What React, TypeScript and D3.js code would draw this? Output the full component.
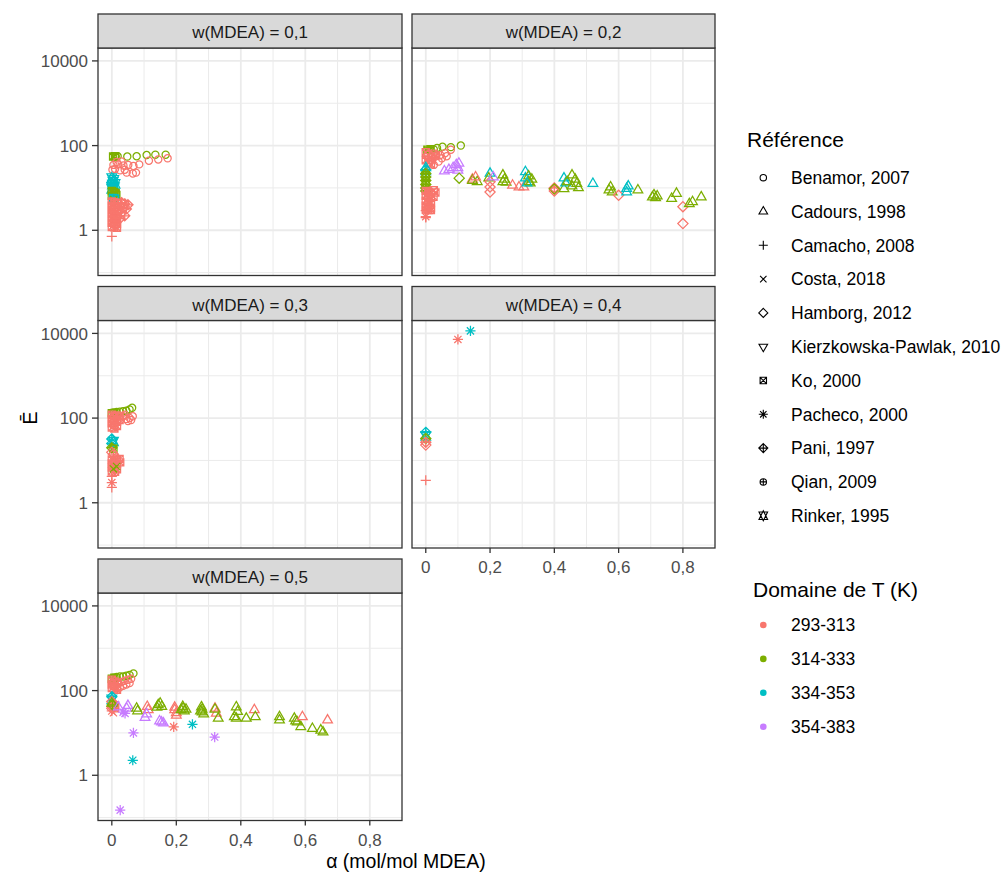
// Facetted scatter: Ē vs CO2 loading α, one facet per MDEA mass fraction.
// Shape = data source, colour = temperature range. Log y, shared scales (ggplot-ish look).

import * as d3 from "d3";

const REFERENCES = [
  "Benamor, 2007",
  "Cadours, 1998",
  "Camacho, 2008",
  "Costa, 2018",
  "Hamborg, 2012",
  "Kierzkowska-Pawlak, 2010",
  "Ko, 2000",
  "Pacheco, 2000",
  "Pani, 1997",
  "Qian, 2009",
  "Rinker, 1995",
];
const T_RANGES = ["293-313", "314-333", "334-353", "354-383"];
const T_COLORS = ["#F8766D", "#7CAE00", "#00BFC4", "#C77CFF"];
const FACETS = [
  "w(MDEA) = 0,1",
  "w(MDEA) = 0,2",
  "w(MDEA) = 0,3",
  "w(MDEA) = 0,4",
  "w(MDEA) = 0,5",
];
const X_BREAKS = [0, 0.2, 0.4, 0.6, 0.8];
const X_LABELS = ["0", "0,2", "0,4", "0,6", "0,8"];
const X_MINOR = [0.1, 0.3, 0.5, 0.7];
const Y_BREAKS = [1, 100, 10000];
const Y_LABELS = ["1", "100", "10000"];
const Y_MINOR = [0.1, 10, 1000];

// rows: [reference index, T range index, α, Ē]
type Obs = [number, number, number, number];

const W01: Obs[] = [
  [0, 1, 0.012, 55], [0, 1, 0.018, 56], [0, 1, 0.048, 55], [0, 1, 0.077, 56],
  [0, 1, 0.108, 60], [0, 1, 0.135, 61], [0, 1, 0.167, 61],
  [6, 1, 0.004, 55], [6, 1, 0.01, 56],
  [0, 0, 0.115, 44], [0, 0, 0.144, 47], [0, 0, 0.173, 50],
  [0, 0, 0.005, 35], [0, 0, 0.02, 36], [0, 0, 0.036, 34], [0, 0, 0.051, 35],
  [0, 0, 0.067, 33], [0, 0, 0.085, 36], [0, 0, 0.002, 27], [0, 0, 0.01, 28],
  [0, 0, 0.026, 26], [0, 0, 0.04, 27], [0, 0, 0.046, 23], [0, 0, 0.065, 22],
  [0, 0, 0.075, 23], [0, 0, 0.015, 41], [0, 0, 0.03, 42],
  [10, 2, 0.0, 17], [10, 2, 0.004, 14], [10, 2, 0.002, 12], [10, 2, 0.008, 10.5],
  [10, 2, 0.0, 9.5], [10, 2, 0.006, 15.5], [10, 2, 0.01, 12.5], [8, 2, 0.0, 13],
  [6, 1, 0.0, 8.5], [6, 1, 0.006, 8], [6, 1, 0.012, 7.6], [6, 1, 0.0, 6.5],
  [6, 1, 0.008, 6.2], [6, 1, 0.014, 6.8], [6, 2, 0.004, 5.8], [6, 2, 0.01, 5.6],
  [3, 1, 0.006, 5.3],
  [6, 0, 0.0, 4.8], [6, 0, 0.008, 4.6], [6, 0, 0.016, 4.4], [6, 0, 0.0, 3.8],
  [6, 0, 0.008, 3.6], [6, 0, 0.016, 3.5], [6, 0, 0.0, 3.0], [6, 0, 0.008, 2.9],
  [6, 0, 0.016, 2.8], [6, 0, 0.0, 2.4], [6, 0, 0.008, 2.3], [6, 0, 0.016, 2.2],
  [6, 0, 0.0, 1.9], [6, 0, 0.008, 1.85], [6, 0, 0.016, 1.8], [6, 0, 0.0, 1.5],
  [6, 0, 0.008, 1.45], [6, 0, 0.016, 1.4], [6, 0, 0.0, 1.2], [6, 0, 0.008, 1.18],
  [6, 0, 0.016, 1.15],
  [8, 0, 0.03, 4.5], [8, 0, 0.04, 4.2], [8, 0, 0.05, 4.0], [8, 0, 0.035, 3.4],
  [8, 0, 0.045, 3.2], [8, 0, 0.03, 2.6], [8, 0, 0.04, 2.2], [8, 0, 0.025, 1.9],
  [2, 0, 0.0, 0.72],
];

const W02: Obs[] = [
  [0, 1, 0.01, 78], [0, 1, 0.025, 81], [0, 1, 0.035, 88], [0, 1, 0.052, 94],
  [0, 1, 0.078, 92], [0, 1, 0.109, 100], [6, 1, 0.005, 80], [6, 1, 0.015, 82],
  [0, 0, 0.078, 80], [0, 0, 0.06, 66], [0, 0, 0.045, 60], [0, 0, 0.03, 55],
  [0, 0, 0.05, 50], [0, 0, 0.065, 56], [0, 0, 0.02, 45], [0, 0, 0.04, 42],
  [0, 0, 0.01, 38], [0, 0, 0.025, 35],
  [6, 0, 0.0, 70], [6, 0, 0.008, 60], [6, 0, 0.016, 52], [6, 0, 0.0, 45],
  [6, 0, 0.008, 40], [6, 0, 0.016, 36], [6, 0, 0.024, 64], [6, 0, 0.032, 58],
  [1, 3, 0.058, 25], [1, 3, 0.072, 27], [1, 3, 0.085, 30], [1, 3, 0.095, 35],
  [1, 3, 0.1, 30], [1, 3, 0.1, 26], [1, 3, 0.103, 38], [4, 1, 0.104, 17],
  [1, 2, 0.0, 30], [1, 2, 0.0, 24], [8, 2, 0.0, 27],
  [8, 1, 0.0, 22], [8, 1, 0.0, 18], [8, 1, 0.0, 15], [8, 1, 0.0, 12],
  [8, 1, 0.0, 10], [8, 1, 0.0, 8.5], [6, 1, 0.0, 20], [6, 1, 0.0, 13],
  [6, 0, 0.0, 8.5], [6, 0, 0.008, 8], [6, 0, 0.016, 7.5], [6, 0, 0.025, 8.8],
  [6, 0, 0.03, 7.8], [6, 0, 0.0, 6.5], [6, 0, 0.008, 6], [6, 0, 0.016, 5.8],
  [6, 0, 0.024, 6.2], [6, 0, 0.0, 5], [6, 0, 0.008, 4.6], [6, 0, 0.016, 4.4],
  [6, 0, 0.0, 3.8], [6, 0, 0.008, 3.6], [6, 0, 0.016, 3.4], [6, 0, 0.0, 3.1],
  [6, 0, 0.008, 3.0], [6, 0, 0.016, 3.0],
  [2, 0, 0.0, 2.9], [2, 0, 0.0, 2.0], [7, 0, 0.0, 2.1],
  [1, 0, 0.145, 16], [1, 1, 0.145, 15], [1, 1, 0.16, 14], [1, 0, 0.155, 18],
  [1, 2, 0.2, 22], [1, 1, 0.196, 17], [4, 0, 0.2, 14], [4, 0, 0.2, 10.5],
  [4, 0, 0.2, 8], [1, 3, 0.21, 18],
  [1, 1, 0.24, 20], [1, 1, 0.245, 16], [1, 1, 0.24, 14], [1, 1, 0.25, 13.5],
  [1, 0, 0.27, 11.5], [1, 0, 0.29, 10.5], [1, 0, 0.305, 10.5],
  [1, 2, 0.31, 24], [1, 2, 0.31, 17], [1, 1, 0.32, 19], [1, 1, 0.32, 14],
  [1, 1, 0.325, 13], [1, 1, 0.33, 16], [1, 2, 0.315, 13],
  [4, 0, 0.4, 9.7], [8, 0, 0.4, 10], [4, 1, 0.4, 9.4], [4, 0, 0.4, 8.5],
  [1, 1, 0.43, 9.5], [1, 2, 0.43, 17], [1, 2, 0.435, 13], [1, 1, 0.44, 14],
  [1, 1, 0.455, 20], [1, 1, 0.47, 12.7], [1, 1, 0.465, 16], [1, 1, 0.455, 11],
  [1, 1, 0.475, 10],
  [1, 2, 0.52, 12.7],
  [1, 1, 0.57, 8.9], [1, 1, 0.575, 10.5], [1, 1, 0.58, 8], [4, 0, 0.6, 6.7],
  [1, 2, 0.625, 9.7], [1, 2, 0.625, 8], [1, 2, 0.63, 11], [1, 1, 0.66, 8.9],
  [1, 1, 0.705, 6.1], [1, 1, 0.71, 6.8], [1, 1, 0.715, 5.8], [1, 1, 0.72, 6.4],
  [1, 1, 0.765, 5.6], [1, 1, 0.78, 7.4], [4, 0, 0.8, 3.6], [4, 0, 0.8, 1.44],
  [1, 1, 0.83, 4.7], [1, 1, 0.857, 6.1], [1, 1, 0.82, 4.2],
];

const W03: Obs[] = [
  [0, 1, 0.005, 135], [0, 1, 0.015, 140], [0, 1, 0.025, 142], [0, 1, 0.035, 145],
  [0, 1, 0.045, 150], [0, 1, 0.055, 160], [0, 1, 0.063, 175],
  [6, 1, 0.0, 130], [6, 1, 0.008, 132],
  [0, 0, 0.035, 110], [0, 0, 0.045, 95], [0, 0, 0.055, 100], [0, 0, 0.065, 110],
  [0, 0, 0.05, 85], [0, 0, 0.04, 120], [0, 0, 0.06, 90],
  [6, 0, 0.0, 120], [6, 0, 0.008, 110], [6, 0, 0.016, 115], [6, 0, 0.024, 105],
  [6, 0, 0.0, 95], [6, 0, 0.008, 88], [6, 0, 0.016, 82], [6, 0, 0.024, 90],
  [6, 0, 0.0, 75], [6, 0, 0.008, 70], [6, 0, 0.016, 65], [6, 0, 0.0, 60],
  [6, 0, 0.008, 57],
  [8, 2, 0.0, 32], [10, 2, 0.005, 28], [8, 2, 0.0, 25],
  [8, 1, 0.0, 20], [6, 1, 0.005, 19],
  [4, 0, 0.0, 15.5], [8, 0, 0.005, 14],
  [6, 0, 0.0, 10.5], [6, 0, 0.008, 10], [6, 0, 0.016, 10.2], [6, 0, 0.024, 10.8],
  [6, 0, 0.0, 8.5], [6, 0, 0.008, 8], [6, 0, 0.016, 8.2], [6, 0, 0.026, 9],
  [6, 0, 0.0, 6.8], [6, 0, 0.008, 6.5], [6, 0, 0.016, 6.2], [6, 0, 0.0, 5.5],
  [6, 0, 0.01, 5.4],
  [3, 1, 0.005, 6.3], [3, 1, 0.015, 7.2],
  [2, 0, 0.0, 4.2], [7, 0, 0.0, 3.0], [2, 0, 0.0, 2.3],
];

const W04: Obs[] = [
  [7, 0, 0.1, 7200], [7, 2, 0.139, 11500],
  [8, 2, 0.0, 46], [10, 2, 0.0, 38], [8, 1, 0.0, 33], [8, 0, 0.0, 27],
  [4, 0, 0.0, 23], [2, 0, 0.0, 3.4],
];

const W05: Obs[] = [
  [0, 1, 0.005, 200], [0, 1, 0.015, 210], [0, 1, 0.025, 215], [0, 1, 0.035, 215],
  [0, 1, 0.045, 225], [0, 1, 0.055, 235], [0, 1, 0.067, 255],
  [6, 1, 0.0, 190], [6, 1, 0.008, 200],
  [0, 0, 0.02, 150], [0, 0, 0.03, 160], [0, 0, 0.04, 170], [0, 0, 0.05, 180],
  [0, 0, 0.06, 190], [0, 0, 0.035, 130], [0, 0, 0.045, 140], [0, 0, 0.055, 150],
  [0, 0, 0.025, 120],
  [6, 0, 0.0, 180], [6, 0, 0.008, 165], [6, 0, 0.016, 150], [6, 0, 0.0, 140],
  [6, 0, 0.008, 130], [6, 0, 0.016, 120], [6, 0, 0.0, 115], [6, 0, 0.008, 108],
  [6, 0, 0.016, 105],
  [8, 2, 0.0, 72], [10, 2, 0.0, 62],
  [4, 0, 0.0, 55], [4, 0, 0.005, 48], [8, 0, 0.0, 42], [4, 0, 0.0, 38],
  [7, 0, 0.0, 33], [3, 0, 0.005, 30], [6, 0, 0.01, 45], [6, 0, 0.01, 38],
  [1, 1, 0.0, 50], [8, 1, 0.002, 46],
  [1, 3, 0.02, 41], [1, 3, 0.046, 38], [1, 3, 0.05, 44], [7, 3, 0.041, 29],
  [7, 3, 0.035, 31],
  [1, 1, 0.077, 38], [1, 1, 0.08, 33], [1, 0, 0.113, 35], [1, 0, 0.11, 42],
  [1, 1, 0.144, 46], [1, 1, 0.15, 50], [1, 1, 0.14, 40], [1, 1, 0.155, 42],
  [1, 3, 0.103, 23], [1, 3, 0.108, 28], [1, 3, 0.154, 18], [1, 3, 0.16, 17],
  [1, 3, 0.148, 19],
  [7, 3, 0.067, 10], [7, 2, 0.065, 2.26], [7, 3, 0.026, 0.15], [7, 0, 0.192, 13.9],
  [7, 2, 0.25, 16], [7, 3, 0.319, 8],
  [1, 0, 0.195, 35], [1, 0, 0.2, 30], [1, 0, 0.195, 40], [1, 0, 0.2, 26],
  [1, 1, 0.221, 38], [1, 1, 0.225, 33], [1, 1, 0.23, 36], [1, 1, 0.22, 42],
  [1, 1, 0.215, 35],
  [1, 1, 0.278, 41], [1, 1, 0.28, 36], [1, 1, 0.28, 31], [1, 1, 0.285, 28],
  [1, 1, 0.275, 33],
  [1, 0, 0.324, 29], [1, 0, 0.32, 38], [1, 1, 0.32, 36], [1, 1, 0.33, 22],
  [1, 1, 0.386, 41], [1, 1, 0.39, 32], [1, 1, 0.38, 24], [1, 1, 0.386, 22],
  [1, 1, 0.417, 22], [1, 0, 0.442, 35], [1, 1, 0.445, 24],
  [1, 1, 0.52, 24], [1, 1, 0.52, 20],
  [1, 1, 0.566, 22], [1, 1, 0.57, 19], [1, 1, 0.575, 18], [1, 1, 0.586, 14],
  [1, 0, 0.591, 24],
  [1, 1, 0.622, 12.7], [1, 1, 0.648, 11.6], [1, 1, 0.655, 10.5], [1, 0, 0.669, 20],
];

const PANELS = [W01, W02, W03, W04, W05];

// R pch geometry (1,2,3,4,5,6,7,8,9,10,11) around 0,0 with circle radius r
function shapePath(shape: number, r: number): string {
  const circ = `M${-r},0a${r},${r} 0 1,0 ${2 * r},0a${r},${r} 0 1,0 ${-2 * r},0Z`;
  const s2 = Math.SQRT2 * r;
  const rt = 1.5551 * r;
  const xc = 1.3468 * r;
  const yc = 0.7776 * r;
  const plus = (a: number) => `M${-a},0H${a}M0,${-a}V${a}`;
  const cross = (a: number) => `M${-a},${-a}L${a},${a}M${-a},${a}L${a},${-a}`;
  const diamond = `M0,${-s2}L${s2},0L0,${s2}L${-s2},0Z`;
  switch (shape) {
    case 0:
      return circ;
    case 1:
      return `M0,${-rt}L${xc},${yc}L${-xc},${yc}Z`;
    case 2:
      return plus(s2);
    case 3:
      return cross(r);
    case 4:
      return diamond;
    case 5:
      return `M0,${rt}L${xc},${-yc}L${-xc},${-yc}Z`;
    case 6:
      return `M${-r},${-r}H${r}V${r}H${-r}Z` + cross(r);
    case 7:
      return cross(r) + plus(s2);
    case 8:
      return diamond + plus(s2);
    case 9:
      return circ + plus(r);
    default: {
      const y2 = 0.5 * (yc + rt);
      return `M0,${-rt}L${xc},${y2}L${-xc},${y2}Z` + `M0,${rt}L${xc},${-y2}L${-xc},${-y2}Z`;
    }
  }
}

const FONT = "'Liberation Sans', Arial, Helvetica, sans-serif";
const COLS: [number, number][] = [[98, 402], [412, 715]];
const ROW_TOP = [14, 286.5, 559];
const STRIP_H = 34;
const PANEL_H = 227.5;

export default function App() {
  const all = PANELS.flat();
  const [ax0, ax1] = d3.extent(all, (d) => d[2]) as [number, number];
  const [ly0, ly1] = d3.extent(all, (d) => Math.log10(d[3])) as [number, number];
  const xPad = (ax1 - ax0) * 0.05;
  const yPad = (ly1 - ly0) * 0.05;
  const xDomain = [ax0 - xPad, ax1 + xPad];
  const yDomain = [10 ** (ly0 - yPad), 10 ** (ly1 + yPad)];

  return (
    <svg
      width={1006}
      height={874}
      style={{ position: "absolute", left: 0, top: 0, background: "#fff" }}
      fontFamily={FONT}
    >
      {PANELS.map((pts, i) => {
        const row = Math.floor(i / 2);
        const col = i % 2;
        const [left, right] = COLS[col];
        const stripTop = ROW_TOP[row];
        const top = stripTop + STRIP_H;
        const bottom = top + PANEL_H;
        const x = d3.scaleLinear().domain(xDomain).range([left, right]);
        const y = d3.scaleLog().domain(yDomain).range([bottom, top]);
        const showX = i >= 3;
        const showY = col === 0;
        return (
          <g key={i}>
            <rect x={left} y={top} width={right - left} height={PANEL_H} fill="#fff" />
            {Y_MINOR.map((v) => (
              <line key={"ym" + v} x1={left} x2={right} y1={y(v)} y2={y(v)} stroke="#EBEBEB" strokeWidth={1} />
            ))}
            {X_MINOR.map((v) => (
              <line key={"xm" + v} x1={x(v)} x2={x(v)} y1={top} y2={bottom} stroke="#EBEBEB" strokeWidth={1} />
            ))}
            {Y_BREAKS.map((v) => (
              <line key={"y" + v} x1={left} x2={right} y1={y(v)} y2={y(v)} stroke="#EBEBEB" strokeWidth={1.8} />
            ))}
            {X_BREAKS.map((v) => (
              <line key={"x" + v} x1={x(v)} x2={x(v)} y1={top} y2={bottom} stroke="#EBEBEB" strokeWidth={1.8} />
            ))}
            {pts.map((d, j) => (
              <path
                key={j}
                d={shapePath(d[0], 3.6)}
                transform={`translate(${x(d[2])},${y(d[3])})`}
                fill="none"
                stroke={T_COLORS[d[1]]}
                strokeWidth={1.25}
              />
            ))}
            <rect x={left} y={top} width={right - left} height={PANEL_H} fill="none" stroke="#333" strokeWidth={1.3} />
            <rect x={left} y={stripTop} width={right - left} height={STRIP_H} fill="#D9D9D9" stroke="#333" strokeWidth={1.3} />
            <text x={(left + right) / 2} y={stripTop + 24} textAnchor="middle" fontSize={17} fill="#1A1A1A">
              {FACETS[i]}
            </text>
            {showY &&
              Y_BREAKS.map((v, k) => (
                <g key={"yt" + v}>
                  <line x1={left - 6} x2={left} y1={y(v)} y2={y(v)} stroke="#333" strokeWidth={1.3} />
                  <text x={left - 10} y={y(v)} dy="0.36em" textAnchor="end" fontSize={17} fill="#4D4D4D">
                    {Y_LABELS[k]}
                  </text>
                </g>
              ))}
            {showX &&
              X_BREAKS.map((v, k) => (
                <g key={"xt" + v}>
                  <line x1={x(v)} x2={x(v)} y1={bottom} y2={bottom + 5} stroke="#333" strokeWidth={1.3} />
                  <text x={x(v)} y={bottom + 25} textAnchor="middle" fontSize={17} fill="#4D4D4D">
                    {X_LABELS[k]}
                  </text>
                </g>
              ))}
          </g>
        );
      })}

      {/* axis titles */}
      <text x={406} y={868} textAnchor="middle" fontSize={19.5} fill="#000">
        α (mol/mol MDEA)
      </text>
      <text transform="translate(37,418) rotate(-90)" textAnchor="middle" fontSize={20} fill="#000">
        Ē
      </text>

      {/* legend: references */}
      <text x={747} y={147} fontSize={21} fill="#000">
        Référence
      </text>
      {REFERENCES.map((name, k) => {
        const cy = 177.7 + k * 33.8;
        return (
          <g key={name}>
            <path
              d={shapePath(k, 3.2)}
              transform={`translate(763.3,${cy})`}
              fill="none"
              stroke="#000"
              strokeWidth={1.1}
            />
            <text x={791} y={cy} dy="0.36em" fontSize={17.5} fill="#000">
              {name}
            </text>
          </g>
        );
      })}

      {/* legend: temperature range */}
      <text x={753} y={597} fontSize={21} fill="#000">
        Domaine de T (K)
      </text>
      {T_RANGES.map((lab, k) => {
        const cy = 625 + k * 33.9;
        return (
          <g key={lab}>
            <circle cx={763.3} cy={cy} r={3.3} fill={T_COLORS[k]} />
            <text x={791} y={cy} dy="0.36em" fontSize={17.5} fill="#000">
              {lab}
            </text>
          </g>
        );
      })}
    </svg>
  );
}
